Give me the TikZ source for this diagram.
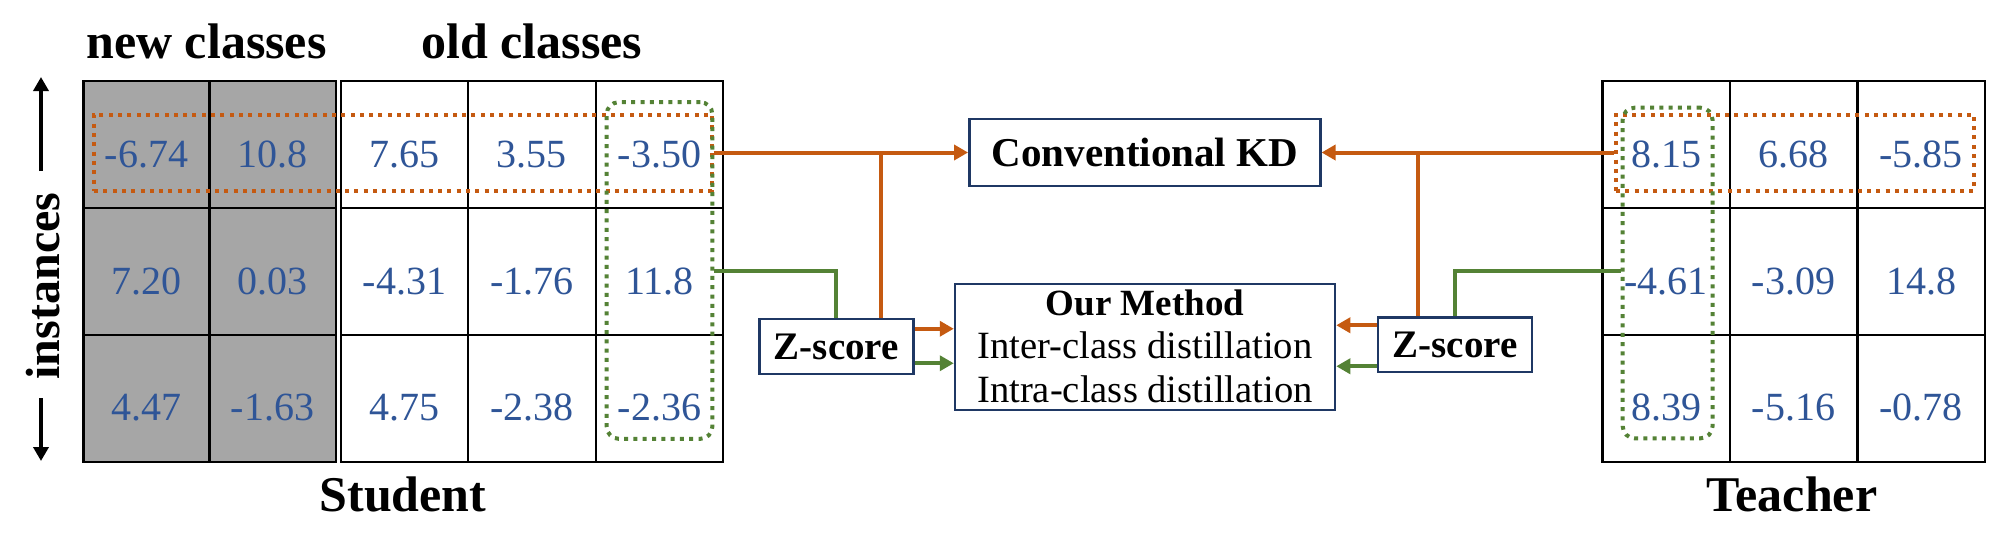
\documentclass[tikz,border=0pt]{standalone}
\usepackage{fontspec}
\setmainfont{Liberation Serif}
\usetikzlibrary{arrows.meta,calc}
\definecolor{numblue}{HTML}{2F5597}
\definecolor{cellgray}{HTML}{A6A6A6}
\definecolor{kdorange}{HTML}{C55A11}
\definecolor{kdgreen}{HTML}{548235}
\definecolor{boxnavy}{HTML}{1F3864}
\begin{document}
\begin{tikzpicture}[x=0.5pt,y=-0.5pt,
  cellbase/.style={draw=black, line width=1.2pt, inner sep=0pt, minimum height=63.45pt,
    text height=22.7pt, text depth=0pt, text=numblue, font=\fontsize{20}{24}\selectfont},
  graycell/.style={cellbase, fill=cellgray, minimum width=63.1pt},
  whitecell/.style={cellbase, fill=white, minimum width=63.75pt},
  biglabel/.style={inner sep=0pt, anchor=base, font=\fontsize{25}{29}\selectfont\bfseries},
  orangedot/.style={draw=kdorange, line width=2pt, dash pattern=on 2pt off 2.65pt, inner sep=0pt},
  greendot/.style={draw=kdgreen, line width=2pt, dash pattern=on 2pt off 2.65pt, inner sep=0pt, rounded corners=6pt},
  navybox/.style={draw=boxnavy, line width=1.25pt, fill=white, inner sep=0pt},
  oline/.style={draw=kdorange, line width=2pt},
  gline/.style={draw=kdgreen, line width=2pt},
  tipstyle/.style={-{Triangle[length=7pt,width=7.5pt]}},
  oarrow/.style={oline, tipstyle},
  garrow/.style={gline, tipstyle},
  karrow/.style={draw=black, line width=2pt, tipstyle}
]
\useasboundingbox (0,0) rectangle (2000,553);

% column headers
\node[biglabel] (newc) at (206.5,58) {new classes};
\node[biglabel] (oldc) at (532,58) {old classes};

% student grid: new classes (gray)
\node[graycell] (s11) at (146.4,144.45) {-6.74};
\node[graycell] (s12) at (272.6,144.45) {10.8};
\node[graycell] (s21) at (146.4,271.35) {7.20};
\node[graycell] (s22) at (272.6,271.35) {0.03};
\node[graycell] (s31) at (146.4,398.25) {4.47};
\node[graycell] (s32) at (272.6,398.25) {-1.63};
% student grid: old classes
\node[whitecell] (s13) at (404.45,144.45) {7.65};
\node[whitecell] (s14) at (531.95,144.45) {3.55};
\node[whitecell] (s15) at (659.45,144.45) {-3.50};
\node[whitecell] (s23) at (404.45,271.35) {-4.31};
\node[whitecell] (s24) at (531.95,271.35) {-1.76};
\node[whitecell] (s25) at (659.45,271.35) {11.8};
\node[whitecell] (s33) at (404.45,398.25) {4.75};
\node[whitecell] (s34) at (531.95,398.25) {-2.38};
\node[whitecell] (s35) at (659.45,398.25) {-2.36};

% teacher grid
\node[whitecell] (t11) at (1666.05,144.45) {8.15};
\node[whitecell] (t12) at (1793.55,144.45) {6.68};
\node[whitecell] (t13) at (1921.05,144.45) {-5.85};
\node[whitecell] (t21) at (1666.05,271.35) {-4.61};
\node[whitecell] (t22) at (1793.55,271.35) {-3.09};
\node[whitecell] (t23) at (1921.05,271.35) {14.8};
\node[whitecell] (t31) at (1666.05,398.25) {8.39};
\node[whitecell] (t32) at (1793.55,398.25) {-5.16};
\node[whitecell] (t33) at (1921.05,398.25) {-0.78};

% dotted selections
\node[orangedot, minimum width=308.85pt, minimum height=38pt] (srow) at (402.85,152.5) {};
\node[greendot, minimum width=52.8pt, minimum height=168.3pt] (scol) at (659.5,270.5) {};
\node[orangedot, minimum width=179pt, minimum height=38pt] (trow) at (1795,152.5) {};
\node[greendot, minimum width=44.9pt, minimum height=165.3pt] (tcol) at (1667.6,273) {};

% labels
\node[biglabel] (stud) at (403,511.7) {Student};
\node[biglabel] (teach) at (1792,511.7) {Teacher};
\node[biglabel, font=\fontsize{24}{28}\selectfont\bfseries, rotate=90] (inst) at (59.3,286) {instances};
\coordinate (upstart) at (41,171);
\coordinate (uptip) at (41,77);
\coordinate (downstart) at (41,398);
\coordinate (downtip) at (41,461);
\draw[karrow] (upstart) -- (uptip);
\draw[karrow] (downstart) -- (downtip);

% boxes
\node[navybox, minimum width=175.5pt, minimum height=33.3pt, font=\fontsize{20.5}{24}\selectfont\bfseries] (ckd) at (1144.8,152.5) {Conventional KD};
\node[navybox, minimum width=190pt, minimum height=63pt] (om) at (1145,347) {};
\node[inner sep=0pt, anchor=base, font=\fontsize{18.5}{22}\selectfont\bfseries] (omt1) at (1145,315) {Our Method};
\node[inner sep=0pt, anchor=base, font=\fontsize{19.3}{22}\selectfont] (omt2) at (1145,358.5) {Inter-class distillation};
\node[inner sep=0pt, anchor=base, font=\fontsize{19.3}{22}\selectfont] (omt3) at (1145,402) {Intra-class distillation};
\node[navybox, minimum width=77pt, minimum height=27.5pt, font=\fontsize{19.5}{22}\selectfont\bfseries] (zl) at (836.3,346.5) {Z-score};
\node[navybox, minimum width=77pt, minimum height=27.25pt, font=\fontsize{19.5}{22}\selectfont\bfseries] (zr) at (1455,344.75) {Z-score};

% student side connectors
\draw[oarrow] (srow.east) -- (srow.east -| ckd.west);
\coordinate (zlo) at ($(zl.north)+(44.7,0)$);
\draw[oline] (zlo) -- (zlo |- srow.east);
\draw[gline] (scol.east |- s25) -| (zl.north);
\coordinate (zla) at ($(zl.north east)+(0,11)$);
\draw[oarrow] (zla) -- (zla -| om.west);
\coordinate (zlb) at ($(zl.south east)+(0,-12)$);
\draw[garrow] (zlb) -- (zlb -| om.west);

% teacher side connectors
\draw[oarrow] (trow.west) -- (trow.west -| ckd.east);
\coordinate (zro) at ($(zr.north)+(-37,0)$);
\draw[oline] (zro) -- (zro |- trow.west);
\draw[gline] (tcol.west |- t21) -| (zr.north);
\coordinate (zra) at ($(zr.north west)+(0,9)$);
\draw[oarrow] (zra) -- (zra -| om.east);
\coordinate (zrb) at ($(zr.south west)+(0,-7)$);
\draw[garrow] (zrb) -- (zrb -| om.east);
\end{tikzpicture}
\end{document}
